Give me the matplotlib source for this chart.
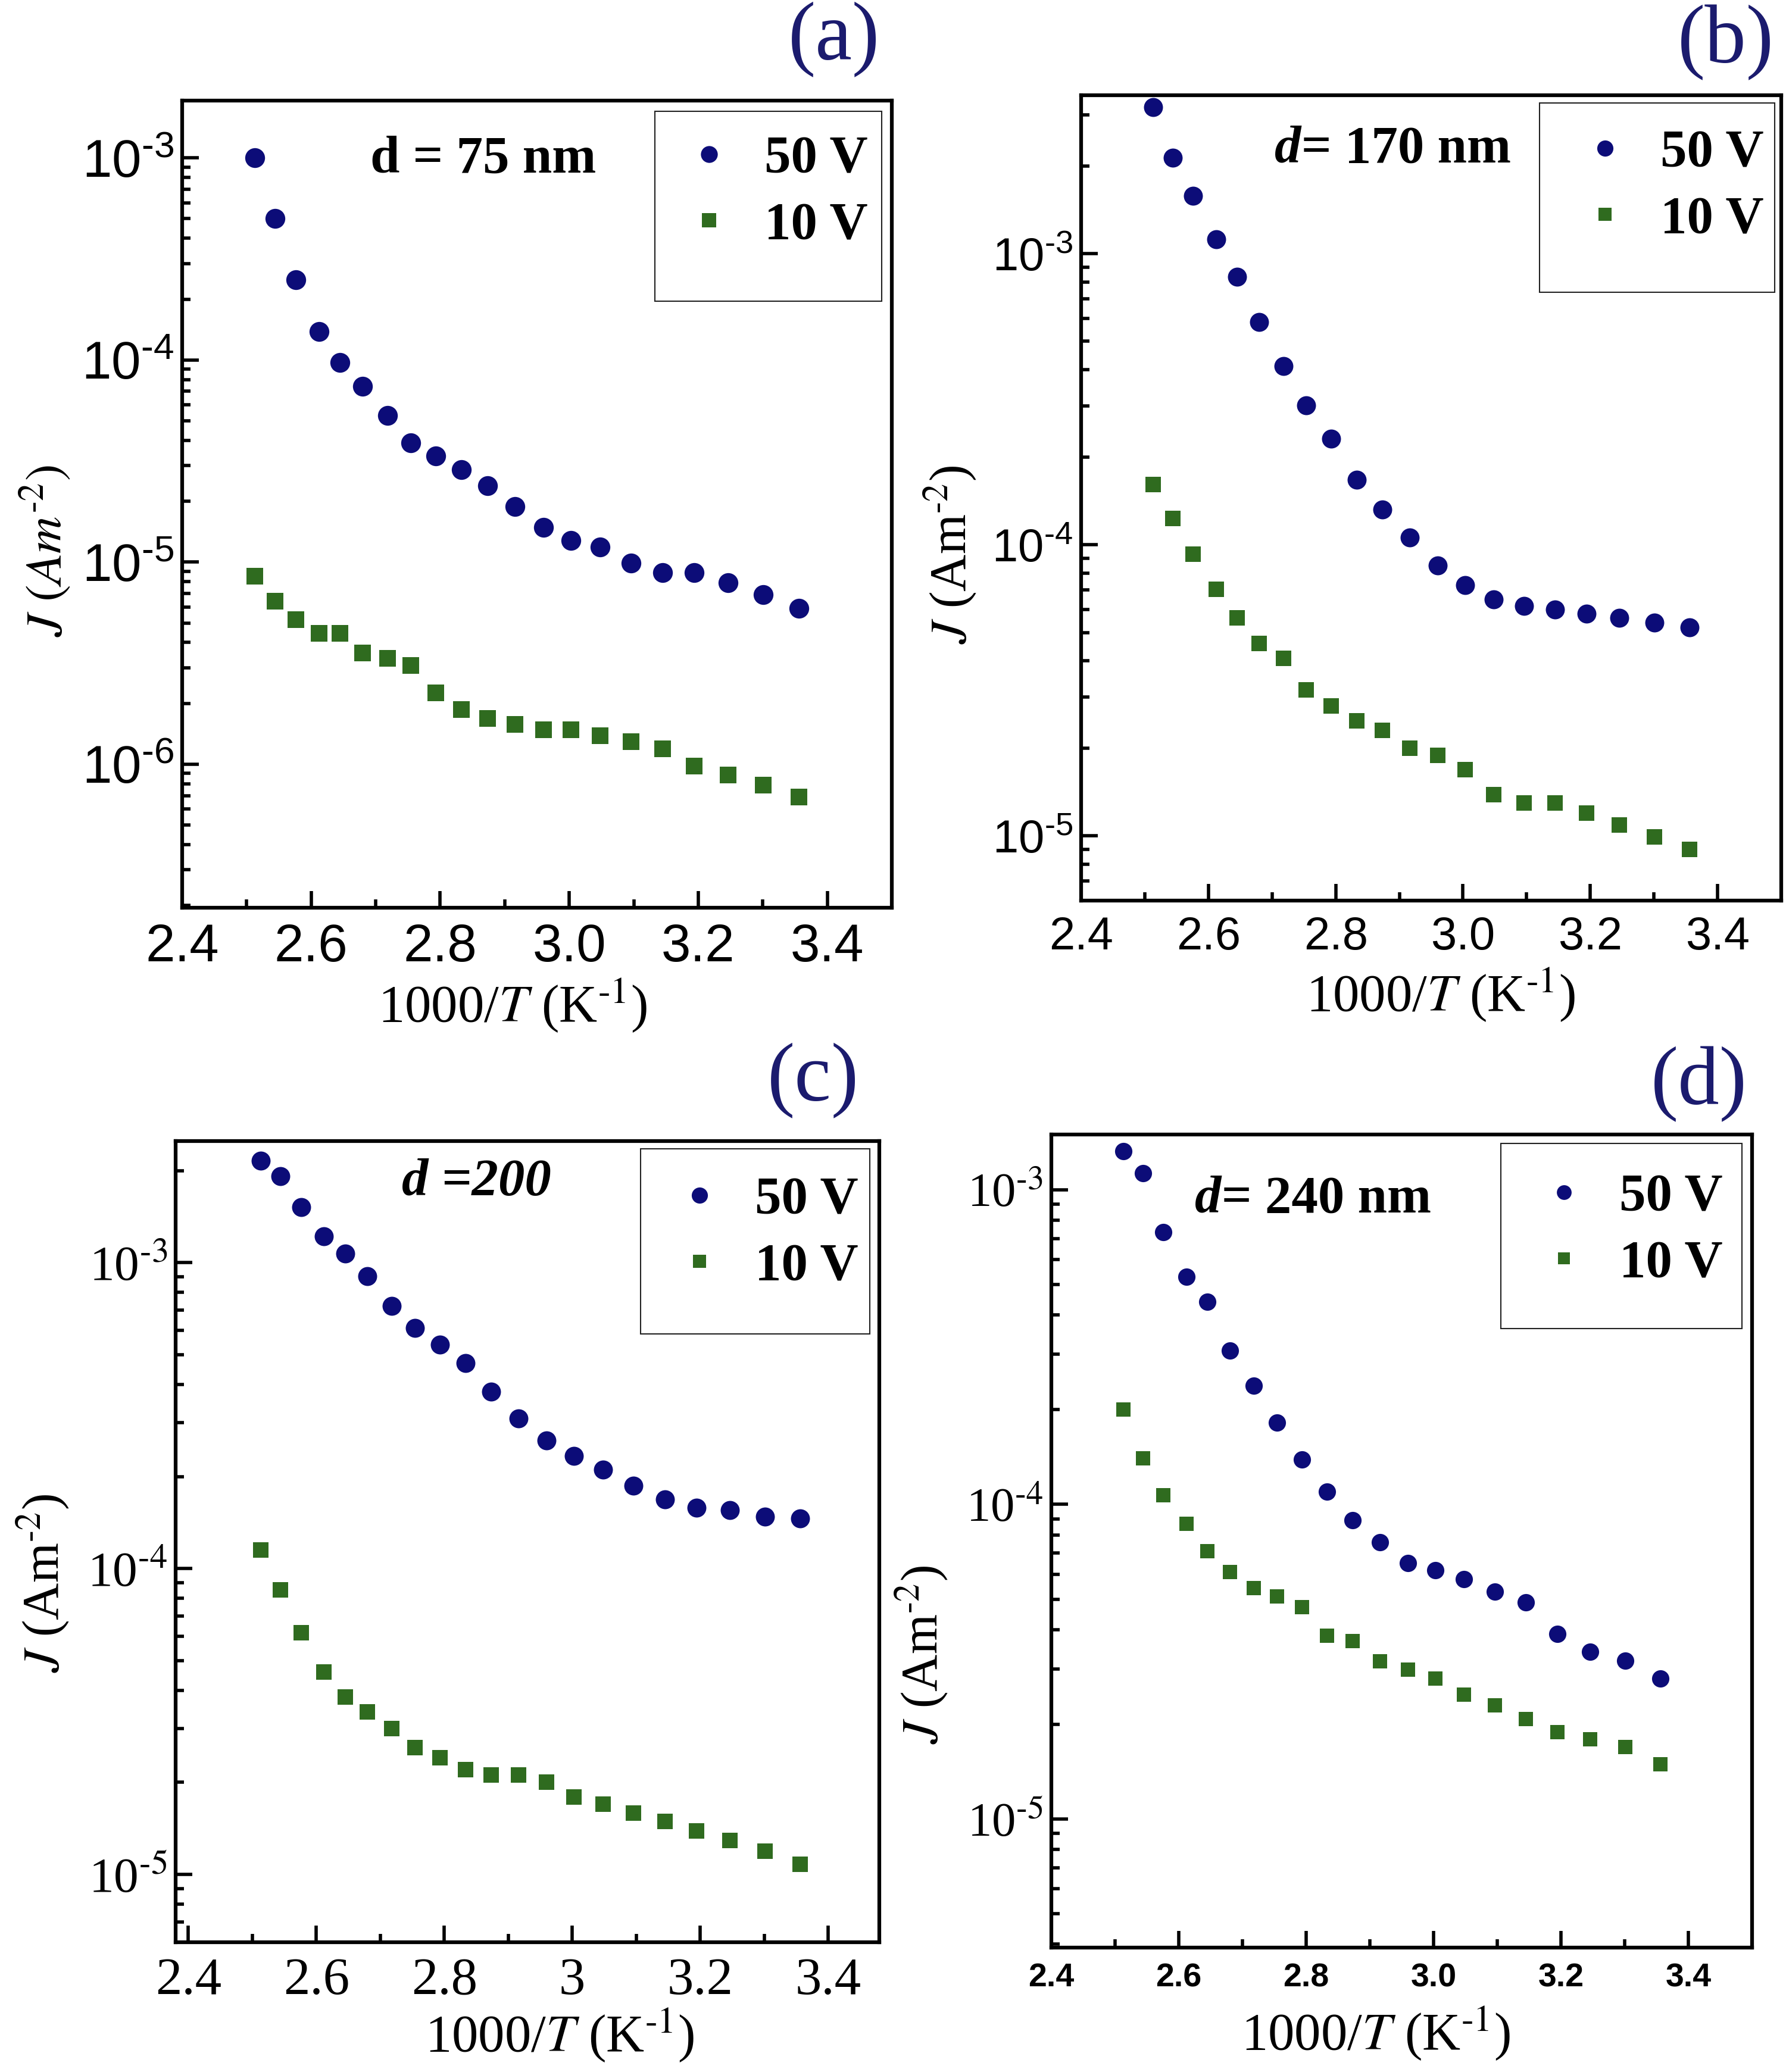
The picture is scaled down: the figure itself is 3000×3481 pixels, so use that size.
import matplotlib
matplotlib.use('Agg')
import matplotlib.pyplot as plt
from matplotlib.ticker import LogLocator, NullFormatter, MultipleLocator, FixedLocator
from matplotlib.font_manager import FontProperties
from matplotlib.patches import Rectangle

# canvas in pixels (dpi 100)
W, H = 3000, 3481
SERIF = 'Liberation Serif'
SANS = 'Liberation Sans'
NAVY = '#0c0c78'
GREEN = '#2f6b1f'
TAG_COLOR = '#1b1b6e'
HY = '\u2010'  # short hyphen for the exponents

plt.rcParams['mathtext.fontset'] = 'custom'
plt.rcParams['mathtext.rm'] = SANS
plt.rcParams['mathtext.it'] = SANS + ':italic'
plt.rcParams['mathtext.bf'] = SANS + ':bold'

# Data ************************************************************************
# 1000/T (K^-1), same temperatures in all four panels
inv_T = [2.513, 2.544, 2.576, 2.612, 2.645, 2.680, 2.718, 2.754, 2.793, 2.833, 2.873,
         2.916, 2.960, 3.003, 3.048, 3.096, 3.145, 3.194, 3.246, 3.301, 3.356]

# (a) d = 75 nm
J_a_50 = [1.0e-3, 5.0e-4, 2.5e-4, 1.38e-4, 9.7e-5, 7.4e-5, 5.3e-5, 3.9e-5, 3.35e-5, 2.87e-5, 2.38e-5,
          1.88e-5, 1.49e-5, 1.28e-5, 1.19e-5, 9.9e-6, 8.9e-6, 8.9e-6, 7.9e-6, 6.9e-6, 5.9e-6]
J_a_10 = [8.5e-6, 6.4e-6, 5.2e-6, 4.43e-6, 4.43e-6, 3.56e-6, 3.35e-6, 3.08e-6, 2.26e-6, 1.87e-6, 1.68e-6,
          1.57e-6, 1.48e-6, 1.48e-6, 1.38e-6, 1.29e-6, 1.19e-6, 9.8e-7, 8.85e-7, 7.9e-7, 6.9e-7]
# (b) d = 170 nm
J_b_50 = [3.19e-3, 2.14e-3, 1.58e-3, 1.12e-3, 8.32e-4, 5.82e-4, 4.12e-4, 3.01e-4, 2.31e-4, 1.67e-4, 1.32e-4,
          1.06e-4, 8.51e-5, 7.27e-5, 6.48e-5, 6.18e-5, 5.99e-5, 5.81e-5, 5.60e-5, 5.40e-5, 5.20e-5]
J_b_10 = [1.61e-4, 1.23e-4, 9.27e-5, 7.02e-5, 5.60e-5, 4.58e-5, 4.08e-5, 3.17e-5, 2.80e-5, 2.49e-5, 2.31e-5,
          2.00e-5, 1.89e-5, 1.69e-5, 1.39e-5, 1.30e-5, 1.30e-5, 1.20e-5, 1.09e-5, 9.95e-6, 9.0e-6]
# (c) d = 200
J_c_50 = [2.16e-3, 1.92e-3, 1.52e-3, 1.22e-3, 1.07e-3, 9.02e-4, 7.21e-4, 6.13e-4, 5.39e-4, 4.69e-4, 3.79e-4,
          3.10e-4, 2.62e-4, 2.34e-4, 2.11e-4, 1.87e-4, 1.68e-4, 1.58e-4, 1.55e-4, 1.48e-4, 1.46e-4]
J_c_10 = [1.15e-4, 8.51e-5, 6.18e-5, 4.59e-5, 3.80e-5, 3.40e-5, 3.00e-5, 2.60e-5, 2.41e-5, 2.20e-5, 2.11e-5,
          2.11e-5, 2.00e-5, 1.79e-5, 1.70e-5, 1.59e-5, 1.49e-5, 1.39e-5, 1.29e-5, 1.19e-5, 1.08e-5]
# (d) d = 240 nm
J_d_50 = [1.33e-3, 1.13e-3, 7.35e-4, 5.30e-4, 4.41e-4, 3.09e-4, 2.39e-4, 1.82e-4, 1.39e-4, 1.10e-4, 8.89e-5,
          7.59e-5, 6.50e-5, 6.19e-5, 5.79e-5, 5.29e-5, 4.89e-5, 3.88e-5, 3.40e-5, 3.19e-5, 2.80e-5]
J_d_10 = [2.00e-4, 1.40e-4, 1.07e-4, 8.67e-5, 7.09e-5, 6.11e-5, 5.42e-5, 5.09e-5, 4.71e-5, 3.83e-5, 3.68e-5,
          3.17e-5, 2.98e-5, 2.80e-5, 2.49e-5, 2.30e-5, 2.08e-5, 1.89e-5, 1.79e-5, 1.69e-5, 1.49e-5]

series_labels = ['50 V', '10 V']
x_ticks = [2.4, 2.6, 2.8, 3.0, 3.2, 3.4]
x_labels_dec = ['2.4', '2.6', '2.8', '3.0', '3.2', '3.4']
x_labels_c = ['2.4', '2.6', '2.8', '3', '3.2', '3.4']
y_ticks_a = [1e-6, 1e-5, 1e-4, 1e-3]
y_labels_a = ['10$^{' + HY + '6}$', '10$^{' + HY + '5}$', '10$^{' + HY + '4}$', '10$^{' + HY + '3}$']
y_ticks_bcd = [1e-5, 1e-4, 1e-3]
y_labels_bcd = ['10$^{' + HY + '5}$', '10$^{' + HY + '4}$', '10$^{' + HY + '3}$']


fig = plt.figure(figsize=(W / 100, H / 100), dpi=100)


def fx(x):
	return x / W

def fy(y):
	return 1 - y / H

def fp(family, size, weight='normal', style='normal', math='stix'):
	return FontProperties(family=family, size=size, weight=weight, style=style, math_fontfamily=math)


# Panel  **********************************************************************
def make_panel(frame, xlim, ylim, j50, j10, ms, yticks, ylabels, xlabels, xfont, yfont,
               ylab_text, ylab_xy, xlab_xy, tag, tag_xy, note, note_xy, leg_xy, box):
	l, t, r, b = frame
	ax = fig.add_axes([fx(l), fy(b), (r - l) / W, (b - t) / H])
	ax.set_yscale('log')

	h1, = ax.plot(inv_T, j50, 'o', color=NAVY, ms=ms[0], mew=0, ls='none')
	h2, = ax.plot(inv_T, j10, 's', color=GREEN, ms=ms[1], mew=0, ls='none')

	ax.set_xlim(xlim)
	ax.set_ylim(ylim)

	for s in ax.spines.values():
		s.set_linewidth(4.5)

	ax.xaxis.set_major_locator(FixedLocator(x_ticks))
	ax.xaxis.set_minor_locator(MultipleLocator(0.1))
	ax.set_xticklabels(xlabels, fontproperties=xfont)
	ax.set_yticks(yticks)
	ax.set_yticklabels(ylabels, fontproperties=yfont)
	ax.yaxis.set_minor_locator(LogLocator(base=10, subs=range(2, 10), numticks=20))
	ax.yaxis.set_minor_formatter(NullFormatter())
	ax.tick_params(which='both', direction='in', top=False, right=False, width=4)
	ax.tick_params(which='major', length=20)
	ax.tick_params(which='minor', length=10)
	ax.tick_params(axis='x', which='major', pad=18)
	ax.tick_params(axis='y', which='major', pad=10)

	# axis labels
	ax.set_xlabel('1000/$T$ (K$^{' + HY + '1}$)', fontproperties=fp(SERIF, 64))
	ax.xaxis.label.set_va('center')
	ax.xaxis.set_label_coords(fx(xlab_xy[0]), fy(xlab_xy[1]), transform=fig.transFigure)
	ax.set_ylabel(ylab_text, fontproperties=fp(SERIF, 62))
	ax.yaxis.label.set_va('center')
	ax.yaxis.set_label_coords(fx(ylab_xy[0]), fy(ylab_xy[1]), transform=fig.transFigure)

	# panel tag
	fig.text(fx(tag_xy[0]), fy(tag_xy[1]), tag, fontproperties=fp(SERIF, 100),
	         color=TAG_COLOR, ha='center', va='center')

	# thickness note, first part may be italic
	t1 = fig.text(fx(note_xy[0]), fy(note_xy[1]), note[0], ha='left', va='center',
	              fontproperties=fp(SERIF, 64, 'bold', note[1]))
	if note[2]:
		ax.annotate(note[2], xy=(1, 0), xycoords=t1, ha='left', va='bottom',
		            fontproperties=fp(SERIF, 64, 'bold'), annotation_clip=False)

	# legend
	S = 64 * 100 / 72.
	hl = 1.0
	ax.legend([h1, h2], series_labels, loc='center left',
	          bbox_to_anchor=(fx(leg_xy[0] - hl * S / 2), fy(leg_xy[1])), bbox_transform=fig.transFigure,
	          frameon=False, prop=fp(SERIF, 64, 'bold'), handlelength=hl, handletextpad=0.55,
	          labelspacing=0.34, borderpad=0, borderaxespad=0, markerscale=0.85, numpoints=1)
	bx0, by0, bx1, by1 = box
	fig.add_artist(Rectangle((fx(bx0), fy(by1)), (bx1 - bx0) / W, (by1 - by0) / H,
	                         transform=fig.transFigure, fill=False, lw=1.5, ec='#222222'))
	return ax


# Main  ************************************************************************
make_panel((306, 169, 1498, 1525), (2.4, 3.5), (1.95e-7, 1.92e-3), J_a_50, J_a_10, (24, 20),
           y_ticks_a, y_labels_a, x_labels_dec, fp(SANS, 64, math='custom'), fp(SANS, 64, math='custom'),
           '$J\\ (Am^{' + HY + '2})$', (76, 926), (861, 1690), '(a)', (1401, 67),
           ('d = 75 nm', 'normal', ''), (622, 268), (1191, 324), (1100, 187, 1481, 506))

make_panel((1816, 160, 2992, 1513), (2.4, 3.5), (6.0e-6, 3.5e-3), J_b_50, J_b_10, (23, 19),
           y_ticks_bcd, y_labels_bcd, x_labels_dec, fp(SANS, 56, math='custom'), fp(SANS, 56, math='custom'),
           '$J$ (Am$^{' + HY + '2}$)', (1596, 932), (2420, 1672), '(b)', (2899, 72),
           ('d', 'italic', '= 170 nm'), (2141, 251), (2696, 314), (2586, 173, 2981, 491))

make_panel((295, 1917, 1477, 3263), (2.38, 3.48), (6.0e-6, 2.5e-3), J_c_50, J_c_10, (23, 19),
           y_ticks_bcd, y_labels_bcd, x_labels_c, fp(SERIF, 64), fp(SERIF, 60),
           '$J$ (Am$^{' + HY + '2}$)', (72, 2660), (940, 3420), '(c)', (1366, 1816),
           ('d =200', 'italic', ''), (675, 1987), (1175, 2073), (1076, 1930, 1461, 2241))

make_panel((1766, 1906, 2943, 3272), (2.4, 3.5), (3.9e-6, 1.5e-3), J_d_50, J_d_10, (21, 17),
           y_ticks_bcd, y_labels_bcd, x_labels_dec, fp(SANS, 40, 'bold', math='custom'), fp(SERIF, 58),
           '$J$ (Am$^{' + HY + '2}$)', (1548, 2780), (2311, 3417), '(d)', (2854, 1822),
           ('d', 'italic', '= 240 nm'), (2007, 2015), (2627, 2068), (2521, 1921, 2926, 2232))

fig.savefig('out.png', dpi=100)
